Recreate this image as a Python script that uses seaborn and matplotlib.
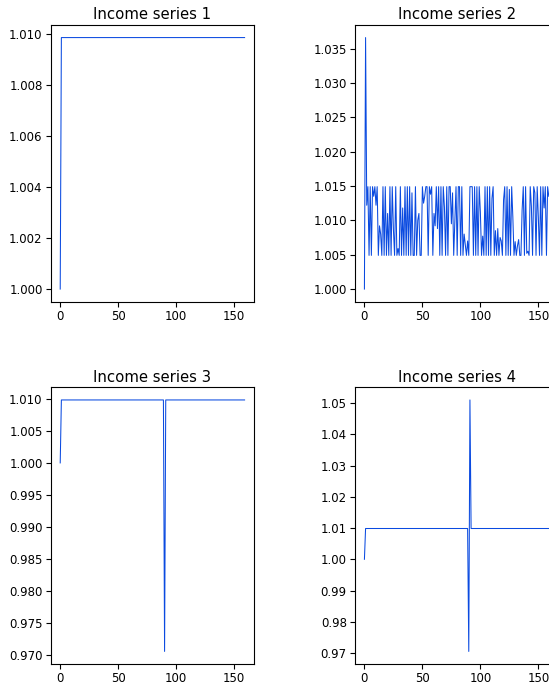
import numpy as np
import matplotlib
matplotlib.use("Agg")
import matplotlib.pyplot as plt
import seaborn as sns

# ---- data ----
titles = ["Income series 1", "Income series 2", "Income series 3", "Income series 4"]
n_periods = 160
periods = list(range(n_periods))

plateau = 1.00985
series1 = [1.0] + [plateau] * (n_periods - 1)

series2 = [1.0, 1.0366,
    1.0122, 1.0149, 1.0049, 1.0149, 1.0049, 1.0149, 1.0135, 1.0149, 1.0122, 1.0149,
    1.0049, 1.0092, 1.0080, 1.0049, 1.0149, 1.0049, 1.0149, 1.0049, 1.0110, 1.0049,
    1.0149, 1.0049, 1.0149, 1.0087, 1.0049, 1.0149, 1.0049, 1.0059, 1.0049, 1.0149,
    1.0049, 1.0118, 1.0049, 1.0149, 1.0049, 1.0149, 1.0049, 1.0149, 1.0049, 1.0140,
    1.0049, 1.0049, 1.0149, 1.0049, 1.0100, 1.0110, 1.0049, 1.0049, 1.0149, 1.0125,
    1.0135, 1.0149, 1.0149, 1.0049, 1.0149, 1.0138, 1.0149, 1.0049, 1.0110, 1.0092,
    1.0149, 1.0088, 1.0149, 1.0049, 1.0149, 1.0049, 1.0149, 1.0119, 1.0049, 1.0149,
    1.0049, 1.0149, 1.0149, 1.0095, 1.0140, 1.0049, 1.0097, 1.0149, 1.0049, 1.0149,
    1.0149, 1.0049, 1.0149, 1.0049, 1.0080, 1.0065, 1.0049, 1.0070, 1.0049, 1.0149,
    1.0149, 1.0149, 1.0049, 1.0149, 1.0049, 1.0149, 1.0049, 1.0149, 1.0112, 1.0049,
    1.0077, 1.0049, 1.0149, 1.0049, 1.0149, 1.0049, 1.0149, 1.0049, 1.0132, 1.0149,
    1.0049, 1.0085, 1.0049, 1.0088, 1.0049, 1.0075, 1.0070, 1.0049, 1.0130, 1.0149,
    1.0049, 1.0149, 1.0049, 1.0145, 1.0049, 1.0149, 1.0105, 1.0049, 1.0069, 1.0049,
    1.0063, 1.0072, 1.0049, 1.0049, 1.0115, 1.0149, 1.0049, 1.0149, 1.0052, 1.0055,
    1.0049, 1.0149, 1.0120, 1.0049, 1.0149, 1.0140, 1.0049, 1.0149, 1.0104, 1.0049,
    1.0149, 1.0049, 1.0149, 1.0118, 1.0149, 1.0049, 1.0149, 1.0135]

series3 = [1.0] + [plateau] * 89 + [0.9705] + [plateau] * 69
series4 = [1.0] + [plateau] * 89 + [0.9705, 1.0510] + [plateau] * 68

all_series = [series1, series2, series3, series4]
line_color = "#0a4ae0"

# ---- figure ----
dpi = 100
fig, axes = plt.subplots(2, 2, figsize=(549 / dpi, 687 / dpi), dpi=dpi)
fig.subplots_adjust(left=51 / 549, right=558 / 549, top=1 - 25 / 687,
                    bottom=1 - 664 / 687, wspace=0.5, hspace=0.31)

for ax, title, ys in zip(axes.flat, titles, all_series):
    sns.lineplot(x=periods, y=ys, ax=ax, color=line_color, linewidth=0.75,
                 estimator=None)
    ax.set_title(title, fontsize=10.7, pad=4)
    ax.set_xlabel("")
    ax.set_ylabel("")
    ax.set_xticks([0, 50, 100, 150])
    ax.tick_params(labelsize=8.5, length=3.5, width=0.8, pad=2.5)
    for sp in ax.spines.values():
        sp.set_linewidth(0.8)

fig.savefig("out.png", dpi=dpi)
